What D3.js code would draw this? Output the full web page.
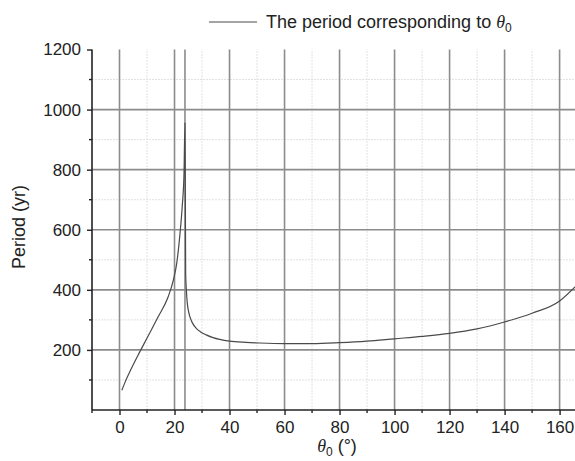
<!DOCTYPE html>
<html>
<head>
<meta charset="utf-8">
<script src="https://cdn.jsdelivr.net/npm/d3@7"></script>
<style>
  body { margin: 0; background: #fff; }
  svg { display: block; font-family: "Liberation Sans", Arial, sans-serif; }
</style>
</head>
<body>
<svg id="chart" width="575" height="461"></svg>
<script>
// theta_0 (degrees) and period (yr)
const thetaValues = [0.85, 2, 4, 6.6, 10.5, 14.1, 17.7, 19.6, 20.8, 22.0, 22.8, 23.45, 23.8,
    23.95, 24.05, 24.3, 24.6, 25.0, 25.5, 26.5, 27.9, 29.5, 31.5, 34, 36.4, 40, 46, 51, 60, 70, 80,
    90, 100, 110, 120, 130, 140, 150, 160, 165.6];
const periodValues = [66, 92, 132, 180, 248, 311, 377, 433, 488, 588, 677, 788, 955,
    700, 455, 400, 360, 333, 313, 290, 272, 260, 250, 241, 235, 229, 225, 223, 221, 221, 224,
    229, 237, 245, 255, 270, 293, 322, 363, 410];
const xMajorTicks = [0, 20, 40, 60, 80, 100, 120, 140, 160];
const xMinorTicks = [-10, 10, 30, 50, 70, 90, 110, 130, 150];
const yMajorTicks = [200, 400, 600, 800, 1000, 1200];
const yMinorTicks = [100, 300, 500, 700, 900, 1100];
const markerTheta = [23.8];
const legendLabel = "The period corresponding to ";

const svg = d3.select("#chart");
const x = d3.scaleLinear().domain([-10, 165.6]).range([92, 575]);
const y = d3.scaleLinear().domain([0, 1200]).range([410, 49.5]);

// minor grid
const grid = svg.append("g");
grid.selectAll("line.vminor").data(xMinorTicks.filter(d => d > -10)).join("line")
    .attr("x1", d => x(d)).attr("x2", d => x(d)).attr("y1", y(0)).attr("y2", y(1200))
    .attr("stroke", "#e2e2e2").attr("stroke-width", 1).attr("stroke-dasharray", "2 1");
grid.selectAll("line.hminor").data(yMinorTicks).join("line")
    .attr("x1", x(-10)).attr("x2", 575).attr("y1", d => y(d)).attr("y2", d => y(d))
    .attr("stroke", "#e2e2e2").attr("stroke-width", 1).attr("stroke-dasharray", "2 1");

// major grid
grid.selectAll("line.vmajor").data(xMajorTicks.concat(markerTheta)).join("line")
    .attr("x1", d => x(d)).attr("x2", d => x(d)).attr("y1", y(0)).attr("y2", y(1200))
    .attr("stroke", "#8c8c8c").attr("stroke-width", 1.6);
grid.selectAll("line.hmajor").data(yMajorTicks.filter(d => d < 1200)).join("line")
    .attr("x1", x(-10)).attr("x2", 575).attr("y1", d => y(d)).attr("y2", d => y(d))
    .attr("stroke", "#8c8c8c").attr("stroke-width", 1.6);

// curve
const line = d3.line()
    .x((d, i) => x(thetaValues[i]))
    .y(d => y(d))
    .curve(d3.curveMonotoneX);
svg.append("path")
    .attr("d", line(periodValues))
    .attr("fill", "none")
    .attr("stroke", "#4a4a4a")
    .attr("stroke-width", 1.2);

// axes
const xAxis = svg.append("g").attr("transform", `translate(0,${y(0)})`)
    .call(d3.axisBottom(x).tickValues(xMajorTicks).tickFormat(d3.format("d"))
        .tickSize(5).tickPadding(6).tickSizeOuter(0));
xAxis.append("g").selectAll("line").data(xMinorTicks).join("line")
    .attr("x1", d => x(d)).attr("x2", d => x(d)).attr("y1", 0).attr("y2", 3);
const yAxis = svg.append("g").attr("transform", `translate(${x(-10)},0)`)
    .call(d3.axisLeft(y).tickValues(yMajorTicks).tickFormat(d3.format("d"))
        .tickSize(5).tickPadding(6).tickSizeOuter(0));
yAxis.append("g").selectAll("line").data(yMinorTicks).join("line")
    .attr("x1", 0).attr("x2", -3).attr("y1", d => y(d)).attr("y2", d => y(d));

[xAxis, yAxis].forEach(a => {
    a.select(".domain").attr("stroke", "#222").attr("stroke-width", 1.6);
    a.selectAll("line").attr("stroke", "#222").attr("stroke-width", 1.4);
    a.selectAll("text").attr("font-size", 17).attr("fill", "#222")
        .attr("font-family", "'Liberation Sans', Arial, sans-serif");
});
xAxis.select(".domain").attr("d", `M${x(-10)},0H575`);
yAxis.select(".domain").attr("d", `M0,${y(1200)}V${y(0)}`);

// axis titles
svg.append("text")
    .attr("transform", "translate(25,227) rotate(-90)")
    .attr("text-anchor", "middle")
    .attr("font-size", 18).attr("fill", "#222")
    .text("Period (yr)");

const xTitle = svg.append("text")
    .attr("x", 337).attr("y", 452)
    .attr("text-anchor", "middle")
    .attr("font-size", 18).attr("fill", "#222");
xTitle.append("tspan").attr("font-style", "italic").attr("font-family", "'Liberation Serif', serif").text("θ");
xTitle.append("tspan").attr("font-size", 12).attr("dy", 4).text("0");
xTitle.append("tspan").attr("dy", -4).text(" (°)");

// legend
const legend = svg.append("g");
legend.append("line")
    .attr("x1", 209).attr("x2", 257).attr("y1", 22).attr("y2", 22)
    .attr("stroke", "#4a4a4a").attr("stroke-width", 1.2);
const legendText = legend.append("text")
    .attr("x", 266).attr("y", 28)
    .attr("font-size", 18).attr("fill", "#222");
legendText.append("tspan").text(legendLabel);
legendText.append("tspan").attr("font-style", "italic").attr("font-family", "'Liberation Serif', serif").text("θ");
legendText.append("tspan").attr("font-size", 12).attr("dy", 4).text("0");
</script>
</body>
</html>
